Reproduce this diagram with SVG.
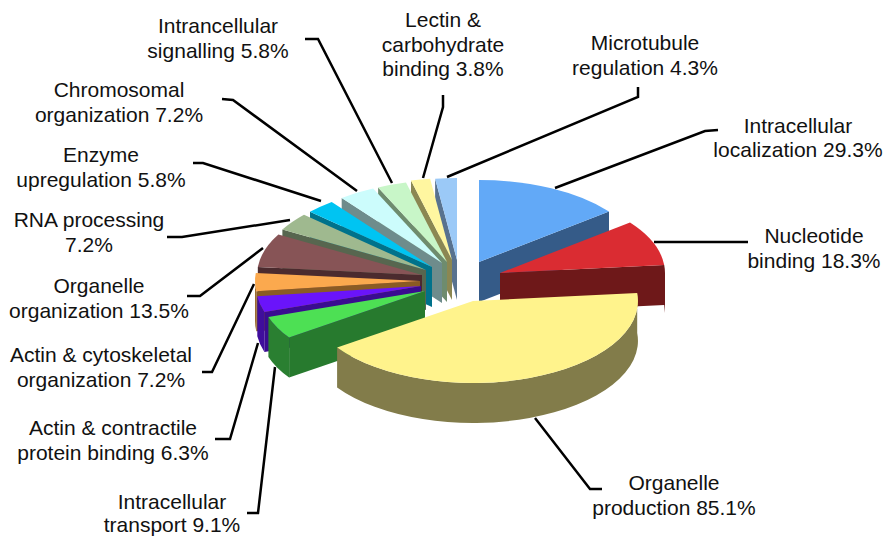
<svg xmlns="http://www.w3.org/2000/svg" width="885" height="537" viewBox="0 0 885 537">
<style>
text{font-family:"Liberation Sans",Arial,sans-serif;font-size:21px;fill:#111;text-anchor:middle}
.ld{fill:none;stroke:#000;stroke-width:2.5;stroke-linejoin:miter}
</style>
<rect width="885" height="537" fill="#fff"/>
<g id="slice-microtubule">
<path d="M457,260 L435.1,178.7 L435.1,218.7 L457,300 Z" fill="#58728F"/>
<path d="M457,260 L435.1,178.7 A165,82 0 0 1 457,178 Z" fill="#9BC9F7"/>
<text x="645" y="50">Microtubule</text><text x="645" y="75">regulation 4.3%</text>
</g>
<g id="slice-lectin">
<path d="M452,260 L411,180.6 L411,220.6 L452,300 Z" fill="#8B8752"/>
<path d="M452,260 L411,180.6 A165,82 0 0 1 430.1,178.7 Z" fill="#FFF6A0"/>
<text x="443" y="27">Lectin &amp;</text><text x="443" y="52">carbohydrate</text><text x="443" y="76">binding 3.8%</text>
</g>
<g id="slice-signalling">
<path d="M447,262 L378.1,187.5 L378.1,227.5 L447,302 Z" fill="#6E8C6E"/>
<path d="M447,262 L378.1,187.5 A165,82 0 0 1 406,182.6 Z" fill="#C8F6C8"/>
<text x="218" y="33">Intrancellular</text><text x="218" y="58">signalling 5.8%</text>
</g>
<g id="slice-chromosomal">
<path d="M442,263 L341.7,197.9 L341.7,237.9 L442,303 Z" fill="#6E8C8C"/>
<path d="M442,263 L341.7,197.9 A165,82 0 0 1 373.1,188.5 Z" fill="#CCFCFC"/>
<text x="119" y="97">Chromosomal</text><text x="119" y="122">organization 7.2%</text>
</g>
<g id="slice-enzyme">
<path d="M432,267 L310,211.8 L310,251.8 L432,307 Z" fill="#00728B"/>
<path d="M432,267 L310,211.8 A165,82 0 0 1 331.7,201.9 Z" fill="#00C4F2"/>
<text x="101" y="162">Enzyme</text><text x="101" y="187">upregulation 5.8%</text>
</g>
<g id="slice-rna">
<path d="M426,270 L282.4,229.6 L282.4,269.6 L426,310 Z" fill="#57664F"/>
<path d="M426,270 L282.4,229.6 A165,82 0 0 1 304,214.8 Z" fill="#9FB98F"/>
<text x="89" y="227">RNA processing</text><text x="89" y="252">7.2%</text>
</g>
<g id="slice-organelle-org">
<path d="M422,275 L257.8,267.1 L257.8,307.1 L422,315 Z" fill="#4B2B2E"/>
<path d="M422,275 L257.8,267.1 A165,82 0 0 1 278.4,234.6 Z" fill="#875456"/>
<text x="99" y="293">Organelle</text><text x="99" y="318">organization 13.5%</text>
</g>
<g id="slice-actin-cyto">
<path d="M420,281 L256.3,291.3 L256.3,331.3 L420,321 Z" fill="#8A5B24"/>
<path d="M256.3,291.3 A165,82 0 0 1 255,281 L255,321 A165,82 0 0 0 256.3,331.3 Z" fill="#9A6A30"/>
<path d="M420,281 L256.3,291.3 A165,82 0 0 1 255.8,273.1 Z" fill="#FBA94E"/>
<text x="101" y="362">Actin &amp; cytoskeletal</text><text x="101" y="387">organization 7.2%</text>
</g>
<g id="slice-actin-contractile">
<path d="M421,286 L264.4,311.9 L264.4,351.9 L421,326 Z" fill="#3A0C90"/>
<path d="M264.4,311.9 A165,82 0 0 1 257.3,296.3 L257.3,336.3 A165,82 0 0 0 264.4,351.9 Z" fill="#3F0E9C"/>
<path d="M421,286 L264.4,311.9 A165,82 0 0 1 257.3,296.3 Z" fill="#6A14FA"/>
<text x="113" y="435">Actin &amp; contractile</text><text x="113" y="460">protein binding 6.3%</text>
</g>
<g id="slice-transport">
<path d="M425,291 L289.1,337.5 L289.1,377.5 L425,331 Z" fill="#277A2E"/>
<path d="M289.1,337.5 A165,82 0 0 1 268.4,316.9 L268.4,356.9 A165,82 0 0 0 289.1,377.5 Z" fill="#2A7F31"/>
<path d="M425,291 L289.1,337.5 A165,82 0 0 1 268.4,316.9 Z" fill="#4DE054"/>
<text x="172" y="509">Intracellular</text><text x="172" y="532">transport 9.1%</text>
</g>
<g id="slice-localization">
<path d="M479,262 L609,211.5 L609,251.5 L479,302 Z" fill="#355B88"/>
<path d="M479,262 L479,180 A165,82 0 0 1 609,211.5 Z" fill="#62A9F7"/>
<text x="798" y="133">Intracellular</text><text x="798" y="157">localization 29.3%</text>
</g>
<g id="slice-nucleotide">
<path d="M500,273 L664.2,265.1 A165,82 0 0 1 665,273 L665,313 L664.2,305.1 L500,313 Z" fill="#6E1819"/>
<path d="M500,273 L630,222.5 A165,82 0 0 1 664.2,265.1 Z" fill="#DA2C32"/>
<text x="814" y="243">Nucleotide</text><text x="814" y="268">binding 18.3%</text>
</g>
<g id="slice-production">
<path d="M637.2,293.1 A165,82 0 0 1 337.1,347.5 L337.1,387.5 A165,82 0 0 0 637.2,333.1 Z" fill="#827C4A"/>
<path d="M473,301 L637.2,293.1 A165,82 0 0 1 337.1,347.5 Z" fill="#FFF38C"/>
<text x="674" y="490">Organelle</text><text x="674" y="515">production 85.1%</text>
</g>
<g id="connectors">
<polyline class="ld" points="638,87 638,97 447,177"/>
<polyline class="ld" points="443,95 443,107 423,178"/>
<polyline class="ld" points="305,39 318,39 392,183"/>
<polyline class="ld" points="222,99 233,100 357,191"/>
<polyline class="ld" points="193,163 203,163 321,201"/>
<polyline class="ld" points="167,237 182,237 290,220"/>
<polyline class="ld" points="187,296 200,296 263,248"/>
<polyline class="ld" points="202,372 212,372 254,284"/>
<polyline class="ld" points="215,439 230,439 258,343"/>
<polyline class="ld" points="247,513 258,513 275,367"/>
<polyline class="ld" points="718,130 705,131 555,188"/>
<polyline class="ld" points="748,242 654,242"/>
<polyline class="ld" points="602,489 590,489 535,418"/>
</g>
</svg>
